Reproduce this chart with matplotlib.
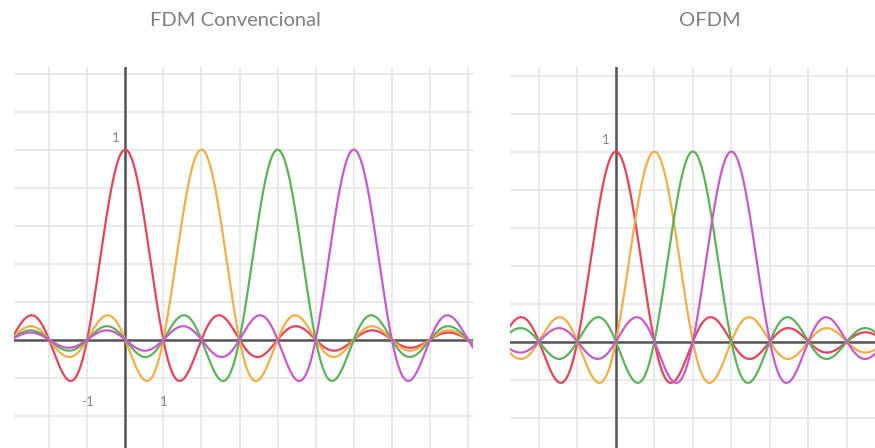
import numpy as np
import matplotlib.pyplot as plt

# centros de cada subportadora (en unidades de la rejilla)
fdm_centers = [0, 2, 4, 6]
ofdm_centers = [0, 1, 2, 3]
colors = ['#e8435a', '#f5ad45', '#5cb35a', '#c95acd']
titles = ['FDM Convencional', 'OFDM']

plt.rcParams['font.family'] = ['Lato', 'DejaVu Sans']

fig = plt.figure(figsize=(8.75, 4.48), dpi=100)
ax1 = fig.add_axes([14/875, 0, 459/875, 381/448])
ax2 = fig.add_axes([510/875, 0, 365/875, 381/448])


def draw_panel(ax, centers, xlim, ylim, xlabels):
    ax.set_xlim(*xlim)
    ax.set_ylim(*ylim)
    for s in ax.spines.values():
        s.set_visible(False)
    ax.set_xticks([])
    ax.set_yticks([])
    for gx in range(-3, 11):
        ax.axvline(gx, color='#e4e4e4', lw=1.1, zorder=0)
    for gy in np.arange(-0.6, 1.5, 0.2):
        ax.axhline(gy, color='#e4e4e4', lw=1.1, zorder=0)
    ax.axhline(0, color='#555555', lw=1.8, zorder=1)
    ax.axvline(0, color='#555555', lw=1.8, zorder=1)
    x = np.linspace(xlim[0], xlim[1], 2000)
    for c, col in zip(centers, colors):
        ax.plot(x, np.sinc(x - c), color=col, lw=1.6, zorder=2)
    ax.text(-0.15, 1.03, '1', color='#888888', fontsize=9.5, ha='right', va='bottom')
    for lx in xlabels:
        ax.text(lx, -0.33, str(lx), color='#888888', fontsize=9.5, ha='center', va='center')


draw_panel(ax1, fdm_centers, (-2.92, 9.13), (-0.57, 1.435), [-1, 1])
draw_panel(ax2, ofdm_centers, (-2.75, 6.73), (-0.56, 1.445), [])

fig.text(235/875, 1 - 20/448, titles[0], color='#808080', fontsize=14.5, ha='center', va='center')
fig.text(710/875, 1 - 20/448, titles[1], color='#808080', fontsize=14.5, ha='center', va='center')

fig.savefig('out.png', dpi=100)
